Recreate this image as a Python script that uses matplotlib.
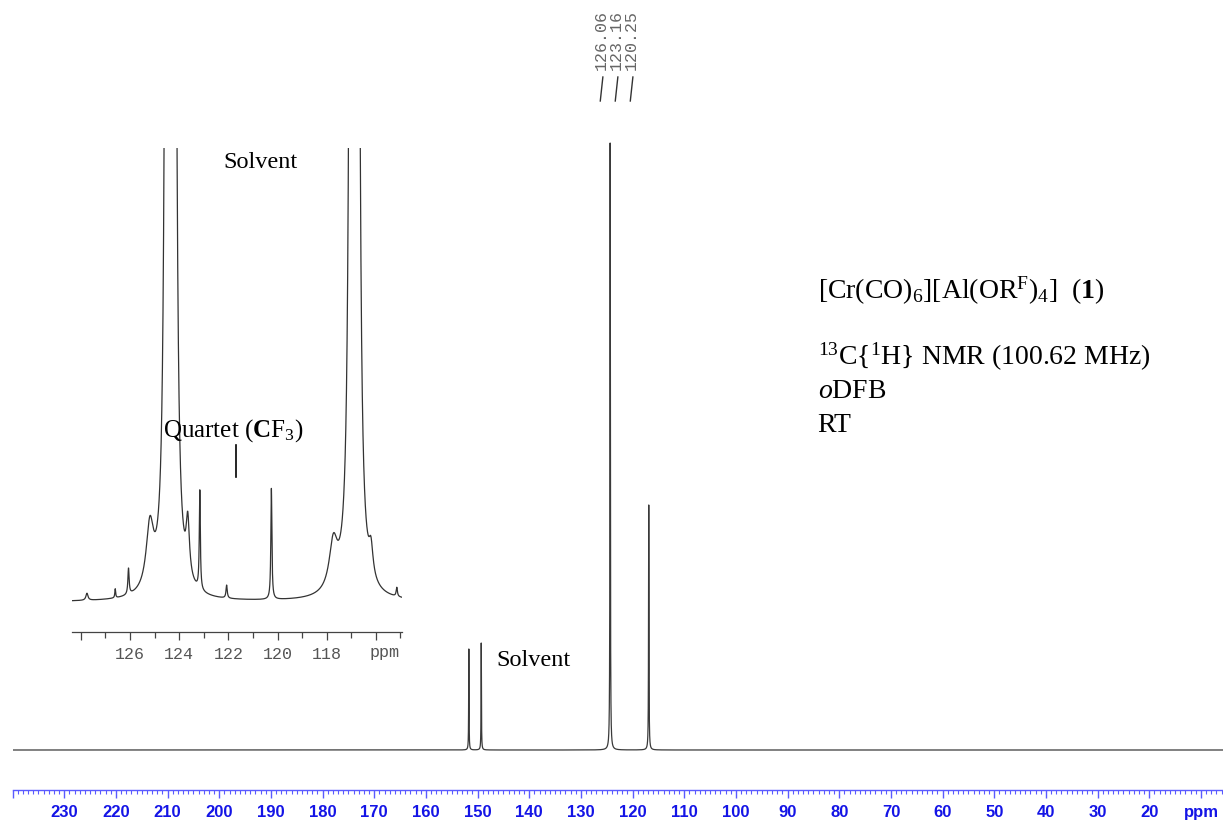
import matplotlib
matplotlib.use("Agg")
import matplotlib.pyplot as plt
import numpy as np

plt.rcParams["mathtext.fontset"] = "custom"
plt.rcParams["mathtext.rm"] = "Liberation Serif"
plt.rcParams["mathtext.it"] = "Liberation Serif:italic"
plt.rcParams["mathtext.bf"] = "Liberation Serif:bold"

# main spectrum peaks: shift (ppm), height, half width (ppm)
main_ppm = [151.7, 149.3, 124.35, 116.88]
main_height = [101, 107, 607, 245]
main_width = [0.04, 0.04, 0.045, 0.045]

# inset (expanded 128-115 ppm region)
inset_ppm = [124.50, 124.20, 117.00, 116.75, 126.06, 123.16, 120.25, 122.07,
             125.19, 123.65, 117.73, 116.20, 115.15, 127.75, 126.60]
inset_height = [1500, 1500, 1500, 1500, 26, 99, 111, 13,
                63, 55, 47, 29, 9, 7, 9]
inset_width = [0.07, 0.07, 0.07, 0.07, 0.03, 0.025, 0.025, 0.03,
               0.18, 0.08, 0.2, 0.1, 0.03, 0.05, 0.02]

peak_labels = ["126.06", "123.16", "120.25"]
peak_values = [126.06, 123.16, 120.25]

main_ticks = list(range(240, 0, -10))
inset_ticks = list(range(128, 115, -2))


def spectrum(x, ppm, height, width):
    y = np.zeros_like(x)
    for p, h, w in zip(ppm, height, width):
        y += h / (1 + ((x - p) / w) ** 2)
    return y


fig = plt.figure(figsize=(12.23, 8.23), dpi=100)

# ---- main spectrum ----
ax = fig.add_axes([12.6 / 1223, 33 / 823, 1 - 12.6 / 1223, 790 / 823])
x = np.linspace(240, 5.74, 80000)
ax.plot(x, spectrum(x, main_ppm, main_height, main_width), color="#3a3a3a", lw=0.9)
ax.set_xlim(240, 5.74)
ax.set_ylim(-40, 750)
for s in ["top", "left", "right"]:
    ax.spines[s].set_visible(False)
ax.spines["bottom"].set_color("#5a5aff")
ax.spines["bottom"].set_linewidth(1.0)
ax.set_yticks([])
ax.set_xticks(main_ticks)
ax.set_xticklabels(["" if t == 240 else ("ppm" if t == 10 else str(t)) for t in main_ticks])
ax.set_xticks(np.arange(240, 5, -1), minor=True)
ax.tick_params(axis="x", which="major", length=6, width=1.0, color="#5a5aff",
               labelcolor="#1414e6", pad=5)
ax.tick_params(axis="x", which="minor", length=3, width=0.8, color="#5a5aff")
for lab in ax.get_xticklabels():
    lab.set_fontfamily("Liberation Sans")
    lab.set_fontweight("bold")
    lab.set_fontsize(12)

# peak labels at top
for val, lab in zip(peak_values, peak_labels):
    ax.text(val, 710, lab, rotation=90, ha="center", va="center",
            fontfamily="Liberation Mono", fontsize=12, color="#666666")
    ax.plot([val - 0.3, val + 0.2], [673, 649], color="#333333", lw=1.0)

ax.text(139.1, 90, "Solvent", ha="center", va="center",
        fontfamily="Liberation Serif", fontsize=17.5)
block = dict(fontfamily="Liberation Serif", fontsize=20, ha="left", va="center")
ax.text(84.2, 459, r"[Cr(CO)$_6$][Al(OR$^\mathrm{F}$)$_4$]  ($\mathbf{1}$)", **block)
ax.text(84.2, 393, r"$^{13}$C{$^{1}$H} NMR (100.62 MHz)", **block)
ax.text(84.2, 359, r"$\mathit{o}$DFB", **block)
ax.text(84.2, 325, "RT", **block)

# ---- inset ----
ins = fig.add_axes([71.7 / 1223, 191 / 823, 330 / 1223, 484 / 823])
xi = np.linspace(128.37, 114.95, 8000)
ins.plot(xi, spectrum(xi, inset_ppm, inset_height, inset_width), color="#333333", lw=0.9)
ins.set_xlim(128.37, 114.95)
ins.set_ylim(-30, 454)
ins.patch.set_visible(False)
for s in ["top", "left", "right"]:
    ins.spines[s].set_visible(False)
ins.spines["bottom"].set_color("#444444")
ins.spines["bottom"].set_linewidth(0.9)
ins.set_yticks([])
ins.set_xticks(inset_ticks)
ins.set_xticklabels(["" if t in (128, 116) else str(t) for t in inset_ticks],
                    fontfamily="Liberation Mono", fontsize=12, color="#555555")
ins.set_xticks(np.arange(128, 114, -1), minor=True)
ins.tick_params(axis="x", which="major", length=6, width=0.9, color="#444444", pad=5)
ins.tick_params(axis="x", which="minor", length=4, width=0.9, color="#444444")
ins.text(115.63, -0.026, "ppm", transform=ins.get_xaxis_transform(), ha="center", va="top",
         fontfamily="Liberation Mono", fontsize=12, color="#555555")

ins.text(120.71, 440, "Solvent", ha="center", va="center",
         fontfamily="Liberation Serif", fontsize=17.5)
ins.text(121.82, 171, r"Quartet ($\mathbf{C}$F$_3$)", ha="center", va="center",
         fontfamily="Liberation Serif", fontsize=18)
q = (peak_values[1] + peak_values[2]) / 2
ins.plot([q, q], [157, 125], color="black", lw=1.2)

fig.savefig("out.png", dpi=100)
